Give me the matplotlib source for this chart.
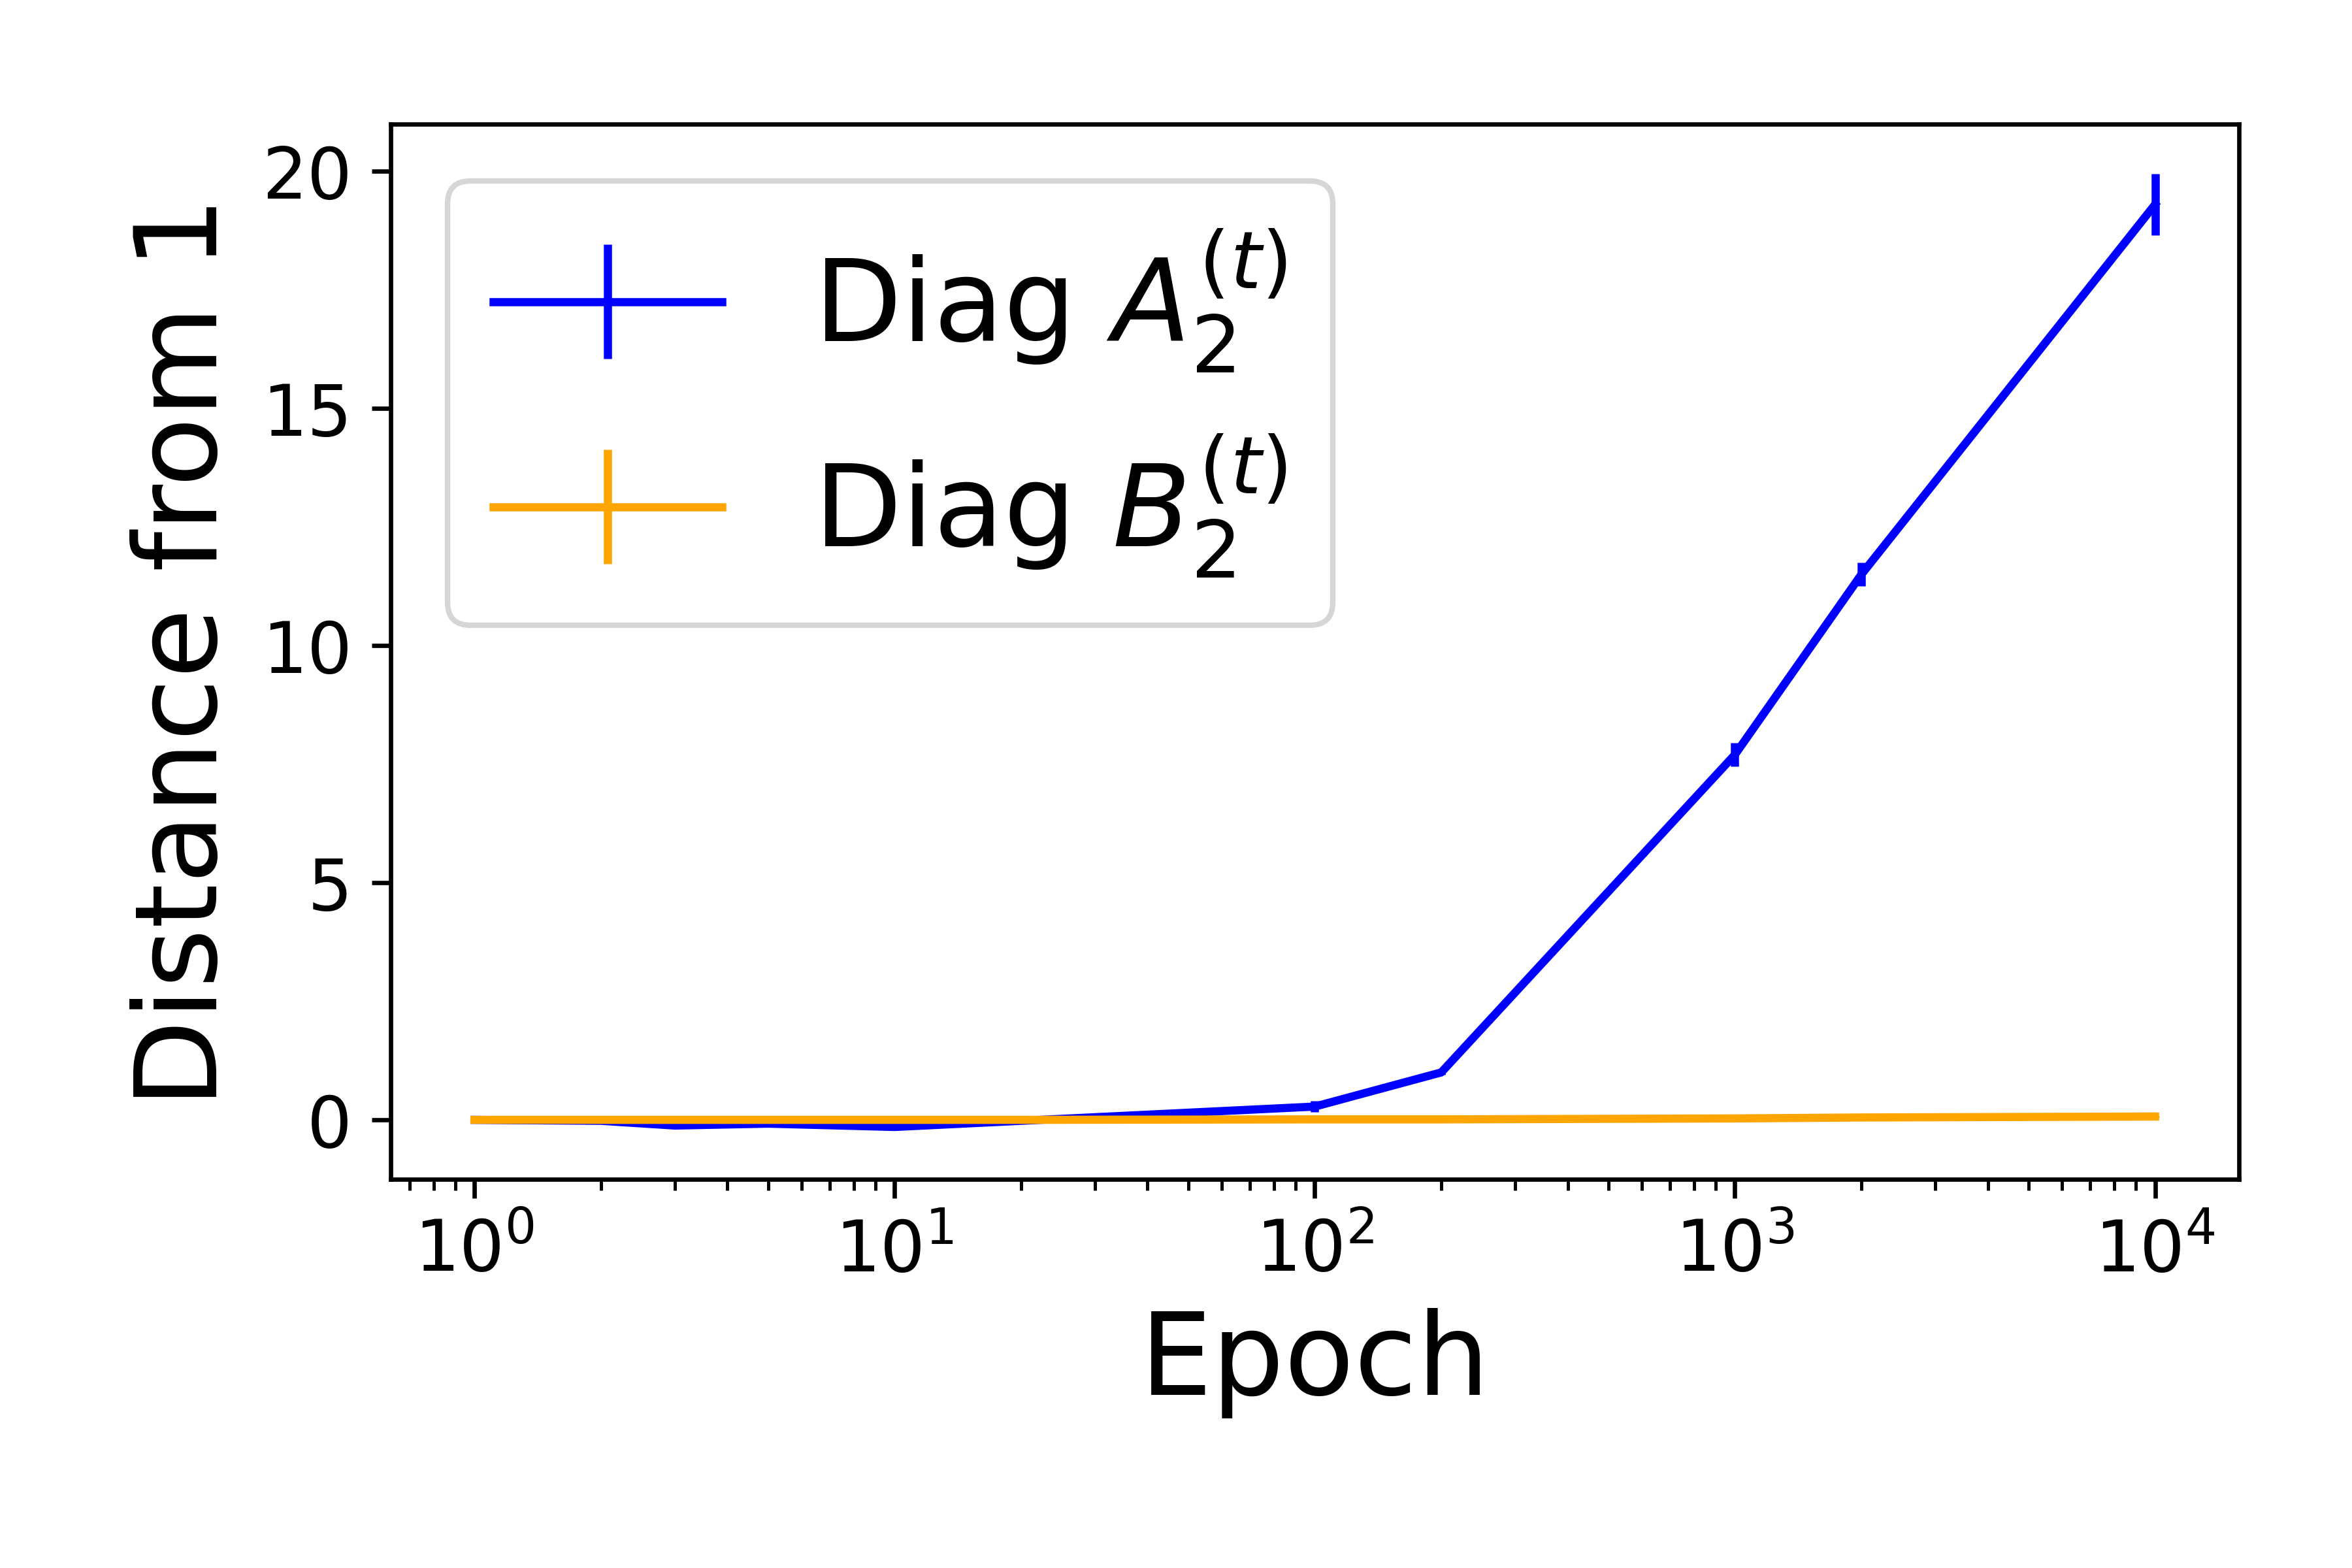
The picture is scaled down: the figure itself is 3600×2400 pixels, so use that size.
import matplotlib
matplotlib.use("Agg")
import matplotlib.pyplot as plt

epochs = [1, 2, 3, 5, 10, 20, 100, 200, 1000, 2000, 10000]
a_mean = [0.0, -0.02, -0.12, -0.08, -0.15, -0.02, 0.28, 1.0, 7.7, 11.5, 19.3]
a_err = [0.02, 0.05, 0.02, 0.02, 0.05, 0.02, 0.12, 0.05, 0.25, 0.25, 0.65]
b_mean = [0.0, 0.0, 0.0, 0.0, 0.0, 0.0, 0.01, 0.01, 0.03, 0.05, 0.07]
b_err = [0.01, 0.01, 0.01, 0.01, 0.01, 0.01, 0.01, 0.01, 0.01, 0.01, 0.01]

fig = plt.figure(figsize=(6, 4), dpi=600)
ax = fig.add_axes([0.166, 0.248, 0.786, 0.673])
ax.errorbar(epochs, a_mean, yerr=a_err, color="blue", lw=1.5, elinewidth=1.5, label=r"Diag $A_2^{(t)}$")
ax.errorbar(epochs, b_mean, yerr=b_err, color="orange", lw=1.5, elinewidth=1.5, label=r"Diag $B_2^{(t)}$")
ax.set_xscale("log")
ax.set_ylim(-1.25, 21)
ax.set_yticks([0, 5, 10, 15, 20])
ax.tick_params(labelsize=13)
ax.set_xlabel("Epoch", fontsize=21)
ax.set_ylabel("Distance from 1", fontsize=21)
ax.legend(fontsize=21, loc="upper left")
fig.savefig("out.png", dpi=600)
